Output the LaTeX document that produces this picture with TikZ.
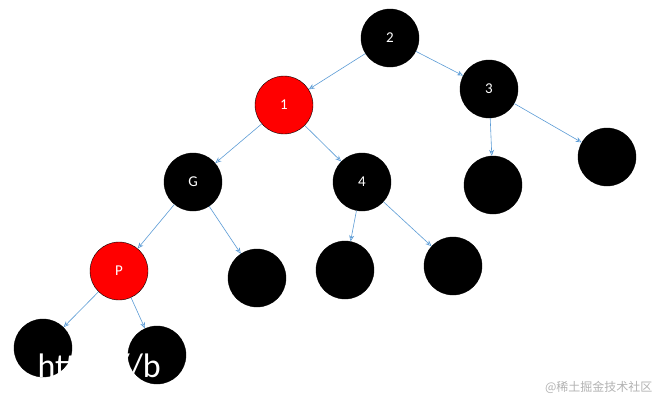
\documentclass[tikz,border=0pt]{standalone}
\usepackage{fontspec}
\setmainfont{Carlito}
\newfontfamily\cjk{Noto Sans CJK SC}
\usetikzlibrary{arrows.meta}
\definecolor{edge}{RGB}{91,155,213}
\begin{document}
\begin{tikzpicture}[x=1pt,y=-1pt,
  bn/.style={circle,fill=black,draw=black,minimum size=58pt,inner sep=0pt,text=white,font=\fontsize{15}{15}\selectfont},
  rn/.style={bn,fill=red},
  e/.style={draw=edge,line width=0.6pt,-{Stealth[length=6pt,width=5pt,open]}}]
\path[use as bounding box] (0,0) rectangle (660,402);
\node[bn] (n2) at (390,38) {2};
\node[rn] (n1) at (284,105) {1};
\node[bn] (n3) at (489,89) {3};
\node[bn] (g) at (193,182) {G};
\node[bn] (n4) at (362,182) {4};
\node[bn] (c3a) at (493,185) {};
\node[bn] (c3b) at (607,157) {};
\node[rn] (p) at (119,271) {P};
\node[bn] (cg) at (257,278) {};
\node[bn] (c4a) at (345,270) {};
\node[bn] (c4b) at (453,266) {};
\node[bn] (cpa) at (43,348) {};
\node[bn] (cpb) at (157,355) {};
\draw[e] (n2) -- (n1);
\draw[e] (n2) -- (n3);
\draw[e] (n1) -- (g);
\draw[e] (n1) -- (n4);
\draw[e] (n3) -- (c3a);
\draw[e] (n3) -- (c3b);
\draw[e] (g) -- (p);
\draw[e] (g) -- (cg);
\draw[e] (n4) -- (c4a);
\draw[e] (n4) -- (c4b);
\draw[e] (p) -- (cpa);
\draw[e] (p) -- (cpb);
\node[text=white,anchor=west,font=\fontsize{34}{34}\selectfont] (wm) at (34,368) {https://b};
\node[text=gray!60,anchor=east,font=\cjk\fontsize{12}{12}\selectfont] (wm2) at (656,387) {@稀土掘金技术社区};
\end{tikzpicture}
\end{document}
